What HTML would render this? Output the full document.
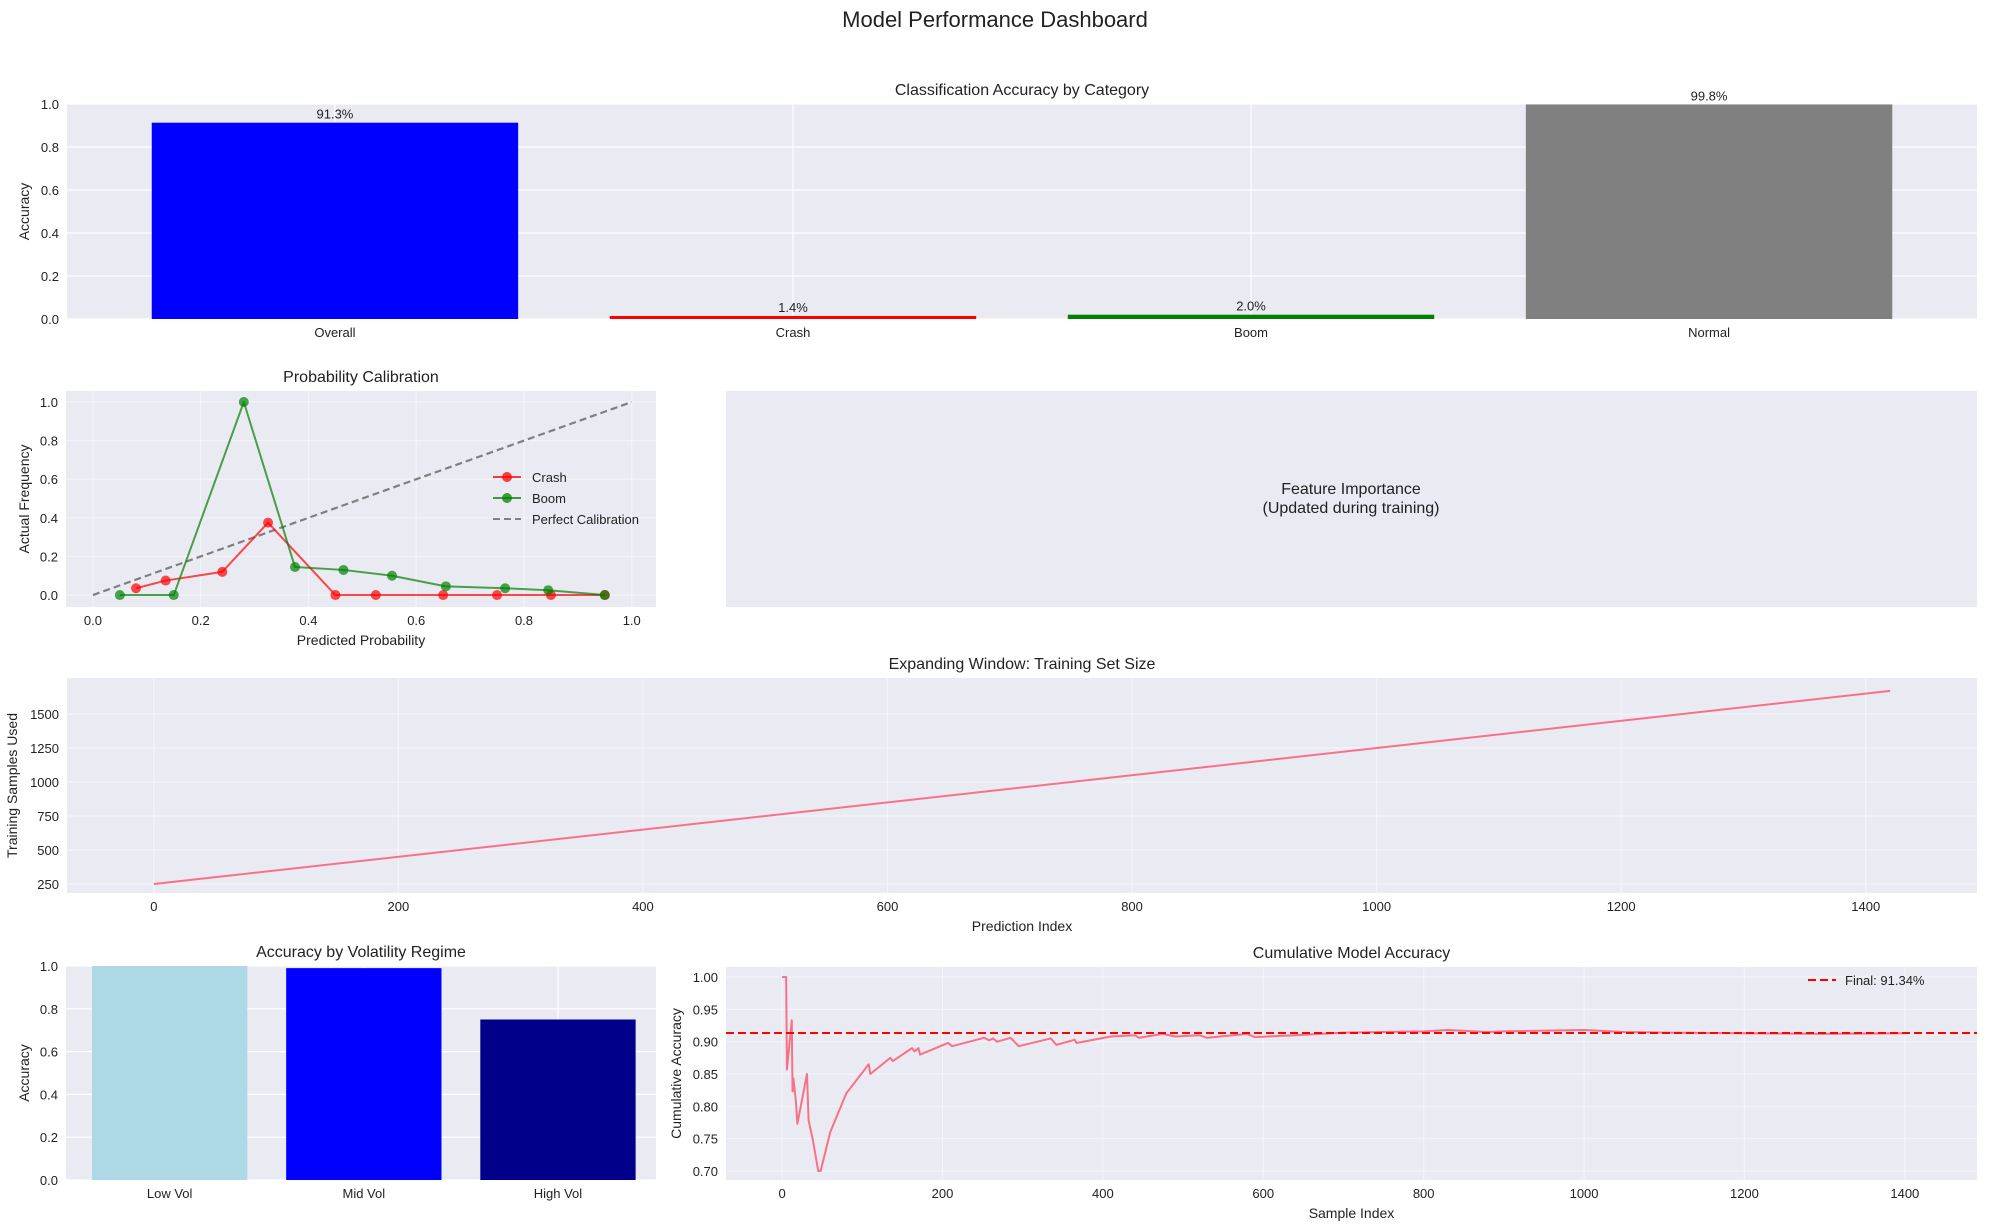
<!DOCTYPE html>
<html><head><meta charset="utf-8"><style>
html,body{margin:0;padding:0;background:#fff;}
svg{display:block;font-family:"Liberation Sans",sans-serif;}
</style></head><body>
<svg id="fig" width="1990" height="1229" viewBox="0 0 1990 1229" xmlns="http://www.w3.org/2000/svg">
<text x="995" y="27" font-size="22" text-anchor="middle" fill="#222">Model Performance Dashboard</text>
</svg>
<script>
// ---- data ----
const catLabels = ["Overall","Crash","Boom","Normal"];
const catValues = [0.913,0.014,0.020,0.998];
const catText = ["91.3%","1.4%","2.0%","99.8%"];
const crashX = [0.08,0.135,0.24,0.325,0.45,0.525,0.65,0.75,0.85,0.95];
const crashY = [0.035,0.075,0.12,0.375,0,0,0,0,0,0];
const boomX = [0.05,0.15,0.28,0.375,0.465,0.555,0.655,0.765,0.845,0.95];
const boomY = [0,0,1.0,0.145,0.13,0.10,0.045,0.035,0.025,0.0];
const trainIdx = [0,1420];
const trainSize = [250,1670];
const volLabels = ["Low Vol","Mid Vol","High Vol"];
const volValues = [1.0,0.99,0.75];
const cumIdx = [0,5,6,12,13,14,17,19,31,33,38,45,48,60,80,108,110,135,138,162,165,170,172,207,212,252,258,263,268,285,295,335,342,365,367,410,440,445,475,490,520,530,580,590,640,700,800,830,880,900,1000,1050,1100,1200,1300,1400];
const cumAcc = [1.0,1.0,0.857,0.933,0.823,0.843,0.81,0.773,0.85,0.778,0.75,0.70,0.70,0.76,0.82,0.865,0.85,0.875,0.87,0.89,0.885,0.89,0.88,0.898,0.893,0.906,0.902,0.905,0.90,0.906,0.893,0.905,0.895,0.903,0.898,0.908,0.91,0.906,0.912,0.908,0.91,0.906,0.912,0.907,0.91,0.914,0.916,0.918,0.915,0.916,0.918,0.915,0.914,0.913,0.912,0.913];
const finalAcc = 0.9134;

const svg = document.getElementById('fig');
const NS = "http://www.w3.org/2000/svg";
function mk(tag, attrs, parent){const e=document.createElementNS(NS,tag);for(const k in attrs)e.setAttribute(k,attrs[k]);(parent||svg).appendChild(e);return e;}
function txt(x,y,s,size,anchor,parent,extra){const e=mk('text',Object.assign({x:x,y:y,'font-size':size,'text-anchor':anchor||'middle',fill:'#222'},extra||{}),parent);e.textContent=s;return e;}

function axes(name,L,R,T,B,x0,x1,y0,y1){
  const g=mk('g',{});
  
  
  mk('rect',{x:L,y:T,width:R-L,height:B-T,fill:'#eaeaf2'},g);
  return {g:g,L:L,R:R,T:T,B:B,sx:v=>L+(v-x0)/(x1-x0)*(R-L),sy:v=>B-(v-y0)/(y1-y0)*(B-T)};
}
function yticks(a,ticks,fmt,op){for(const t of ticks){const y=a.sy(t);mk('line',{x1:a.L,x2:a.R,y1:y,y2:y,stroke:'#fff','stroke-width':1.2,'stroke-opacity':op||1},a.g);const e=txt(a.L-8,y+5,fmt(t),13,'end',a.g);}}
function xticks(a,ticks,labels,op){ticks.forEach((t,i)=>{const x=a.sx(t);mk('line',{x1:x,x2:x,y1:a.T,y2:a.B,stroke:'#fff','stroke-width':1.2,'stroke-opacity':op||1},a.g);const e=txt(x,a.B+18,labels[i],13,'middle',a.g);});}
function title(a,s){const e=txt((a.L+a.R)/2,a.T-9,s,16,'middle',a.g);}
function ylab(a,s,x){const cy=(a.T+a.B)/2;const e=txt(x,cy,s,14,'middle',a.g,{transform:`rotate(-90 ${x} ${cy})`});}
function xlab(a,s){const e=txt((a.L+a.R)/2,a.B+38,s,14,'middle',a.g);}
function poly(a,xs,ys,color,w,extra){return mk('polyline',Object.assign({points:xs.map((x,i)=>a.sx(x)+','+a.sy(ys[i])).join(' '),fill:'none',stroke:color,'stroke-width':w,'stroke-linejoin':'round'},extra||{}),a.g);}

// Panel 1
(function(){
  const a=axes('category-accuracy-chart',67,1977,104,319,-0.585,3.585,0,1);
  yticks(a,[0,0.2,0.4,0.6,0.8,1.0],t=>t.toFixed(1));
  xticks(a,[0,1,2,3],catLabels);
  const colors=['#0000ff','#ff0000','#008000','#808080'];
  catValues.forEach((v,i)=>{
    const r=mk('rect',{x:a.sx(i-0.4),y:a.sy(v),width:a.sx(i+0.4)-a.sx(i-0.4),height:a.sy(0)-a.sy(v),fill:colors[i]},a.g);
    
    
    const t=txt(a.sx(i),a.sy(v)-4,catText[i],13,'middle',a.g);
    
    
  });
  title(a,'Classification Accuracy by Category');
  ylab(a,'Accuracy',29);
})();

// Panel 2
(function(){
  const a=axes('calibration-chart',66,656,391,607,-0.05,1.045,-0.062,1.057);
  yticks(a,[0,0.2,0.4,0.6,0.8,1.0],t=>t.toFixed(1),0.45);
  xticks(a,[0,0.2,0.4,0.6,0.8,1.0],['0.0','0.2','0.4','0.6','0.8','1.0'],0.45);
  const d=poly(a,[0,1],[0,1],'#808080',2.2,{'stroke-dasharray':'7,4'});
  
  
  [[crashX,crashY,'rgba(255,0,0,0.7)','crash'],[boomX,boomY,'rgba(0,128,0,0.7)','boom']].forEach(s=>{
    const l=poly(a,s[0],s[1],s[2],2);
    
    
    s[0].forEach((x,i)=>{const c=mk('circle',{cx:a.sx(x),cy:a.sy(s[1][i]),r:5,fill:s[2]},a.g);
      
      });
  });
  const lg=mk('g',{},a.g);
  
  
  [['Crash','rgba(255,0,0,0.75)',false],['Boom','rgba(0,128,0,0.75)',false],['Perfect Calibration','#808080',true]].forEach((e,i)=>{
    const y=482+i*21;
    mk('line',Object.assign({x1:493,x2:521,y1:y-5,y2:y-5,stroke:e[1],'stroke-width':2},e[2]?{'stroke-dasharray':'7,4'}:{}),lg);
    if(!e[2])mk('circle',{cx:507,cy:y-5,r:5,fill:e[1]},lg);
    const t=txt(532,y,e[0],13,'start',lg);
    
    
  });
  title(a,'Probability Calibration');
  ylab(a,'Actual Frequency',29);
  xlab(a,'Predicted Probability');
})();

// Feature importance placeholder
(function(){
  const g=mk('g',{});
  
  
  mk('rect',{x:726,y:391,width:1251,height:216,fill:'#eaeaf2'},g);
  txt(1351,494,'Feature Importance',16,'middle',g);
  txt(1351,513,'(Updated during training)',16,'middle',g);
})();

// Panel 3
(function(){
  const a=axes('training-size-chart',67,1977,678,893,-71,1491,184,1765);
  yticks(a,[250,500,750,1000,1250,1500],t=>String(t),0.45);
  xticks(a,[0,200,400,600,800,1000,1200,1400],['0','200','400','600','800','1000','1200','1400'],0.45);
  const l=poly(a,trainIdx,trainSize,'#f77189',2);
  
  
  title(a,'Expanding Window: Training Set Size');
  ylab(a,'Training Samples Used',17);
  xlab(a,'Prediction Index');
})();

// Panel 4
(function(){
  const a=axes('volatility-accuracy-chart',66,656,966,1180,-0.534,2.505,0,1);
  yticks(a,[0,0.2,0.4,0.6,0.8,1.0],t=>t.toFixed(1));
  xticks(a,[0,1,2],volLabels);
  const colors=['#add8e6','#0000ff','#00008b'];
  volValues.forEach((v,i)=>{
    const r=mk('rect',{x:a.sx(i-0.4),y:a.sy(v),width:a.sx(i+0.4)-a.sx(i-0.4),height:a.sy(0)-a.sy(v),fill:colors[i]},a.g);
    
    
  });
  title(a,'Accuracy by Volatility Regime');
  ylab(a,'Accuracy',29);
})();

// Panel 5
(function(){
  const a=axes('cumulative-accuracy-chart',726,1977,967,1180,-70,1490,0.686,1.0155);
  yticks(a,[0.70,0.75,0.80,0.85,0.90,0.95,1.00],t=>t.toFixed(2),0.45);
  xticks(a,[0,200,400,600,800,1000,1200,1400],['0','200','400','600','800','1000','1200','1400'],0.45);
  const l=poly(a,cumIdx,cumAcc,'#f77189',2);
  
  
  const f=mk('line',{x1:a.L,x2:a.R,y1:a.sy(finalAcc),y2:a.sy(finalAcc),stroke:'#ff0000','stroke-width':2,'stroke-dasharray':'8,4'},a.g);
  
  
  const lg=mk('g',{},a.g);
  
  
  mk('line',{x1:1808,x2:1836,y1:980,y2:980,stroke:'#ff0000','stroke-width':2,'stroke-dasharray':'8,4'},lg);
  const t=txt(1845,985,'Final: 91.34%',13,'start',lg);
  
  
  title(a,'Cumulative Model Accuracy');
  ylab(a,'Cumulative Accuracy',681);
  xlab(a,'Sample Index');
})();
</script>
</body></html>
